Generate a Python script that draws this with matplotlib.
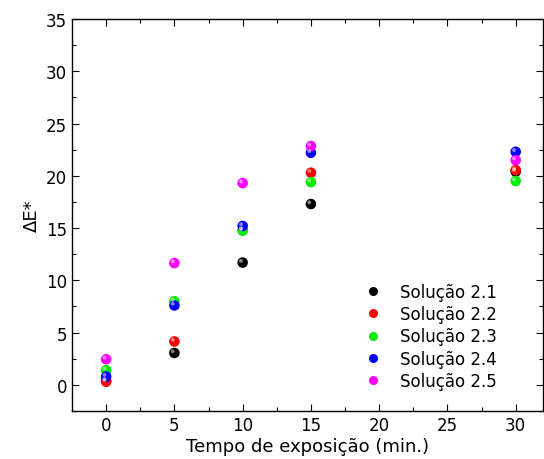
import numpy as np
import matplotlib
matplotlib.use('Agg')
import matplotlib.pyplot as plt
import matplotlib.transforms as mtransforms
from matplotlib.lines import Line2D

# 데이터
tempo = [0, 5, 10, 15, 30]
sol_21 = [0.4, 3.05, 11.7, 17.3, 20.4]
sol_22 = [0.3, 4.15, 14.8, 20.3, 20.55]
sol_23 = [1.4, 8.0, 14.75, 19.4, 19.5]
sol_24 = [0.8, 7.6, 15.2, 22.2, 22.3]
sol_25 = [2.45, 11.65, 19.3, 22.85, 21.5]
series = [sol_21, sol_22, sol_23, sol_24, sol_25]
labels = ['Solução 2.1', 'Solução 2.2', 'Solução 2.3', 'Solução 2.4', 'Solução 2.5']
cores = ['#000000', '#ff0000', '#00ee00', '#0000ff', '#ff00ff']

plt.rcParams['font.family'] = ['DejaVu Sans']
fig = plt.figure(figsize=(5.44, 4.6), dpi=100)
ax = fig.add_axes([72/544, 48/460, 471/544, 392/460])

# 구 모양 마커 (하이라이트 포함)
hl = mtransforms.offset_copy(ax.transData, fig=fig, x=-1.2, y=1.2, units='points')
for ys, c, lab in zip(series, cores, labels):
    ax.scatter(tempo, ys, s=58, color=c, edgecolors='none', zorder=3)
    ax.scatter(tempo, ys, s=8, color='white', alpha=0.5, edgecolors='none',
               transform=hl, zorder=4)

ax.set_xlim(-2.5, 32)
ax.set_ylim(-2.5, 35)
ax.set_xticks([0, 5, 10, 15, 20, 25, 30])
ax.set_yticks([0, 5, 10, 15, 20, 25, 30, 35])
ax.set_xticks(np.arange(2.5, 32, 5), minor=True)
ax.set_yticks(np.arange(-2.5, 35, 5), minor=True)
ax.tick_params(which='both', direction='in', top=True, right=True, labelsize=12, width=0.8)
ax.tick_params(which='major', length=5)
ax.tick_params(which='minor', length=3)
for sp in ax.spines.values():
    sp.set_linewidth(1.0)

ax.set_xlabel('Tempo de exposição (min.)', fontsize=13, labelpad=2)
ax.set_ylabel('ΔE*', fontsize=13, labelpad=4)

handles = [Line2D([], [], ls='none', marker='o', ms=6.5, mfc=c, mec='none') for c in cores]
ax.legend(handles, labels, loc='lower right', bbox_to_anchor=(0.93, 0.02), frameon=False,
          fontsize=12, handletextpad=0.6, labelspacing=0.25, borderpad=0.3)

fig.savefig('out.png', dpi=100)
